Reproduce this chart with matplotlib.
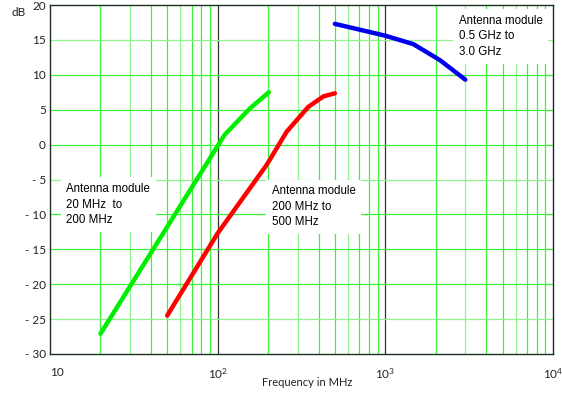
import numpy as np
import matplotlib
matplotlib.use("Agg")
import matplotlib.pyplot as plt
from matplotlib.ticker import FixedLocator, NullFormatter

# Curves (frequency in MHz, gain in dB)
f_green = [20, 110, 156, 202]
db_green = [-27.1, 1.4, 5.2, 7.5]

f_red = [50, 100, 196, 258, 347, 427, 500]
db_red = [-24.5, -12.7, -2.9, 1.85, 5.4, 6.9, 7.35]

f_blue = [500, 1000, 1467, 2117, 3000]
db_blue = [17.3, 15.6, 14.4, 12.1, 9.3]

y_ticks = [20, 15, 10, 5, 0, -5, -10, -15, -20, -25, -30]
y_labels = ["20", "15", "10", "5", "0", "- 5", "- 10", "- 15", "- 20", "- 25", "- 30"]
x_ticks = [10, 100, 1000, 10000]
x_labels = ["10", r"$\mathregular{10^2}$", r"$\mathregular{10^3}$", r"$\mathregular{10^4}$"]

plt.rcParams["font.family"] = ["Lato", "DejaVu Sans"]
plt.rcParams["mathtext.fontset"] = "custom"
plt.rcParams["mathtext.rm"] = "Lato"

fig = plt.figure(figsize=(5.62, 3.97), dpi=100)
ax = fig.add_axes([50 / 562, 1 - 354 / 397, 503 / 562, 349 / 397])
ax.set_xscale("log")
ax.set_xlim(10, 10000)
ax.set_ylim(-30, 20)

# grid: green minor verticals, dark decade lines, green horizontals
grid_green = "#3cf03c"
light_green = "#8ef58e"
for dec in [10, 100, 1000]:
    for m in range(2, 10):
        ax.axvline(dec * m, color=light_green if m in (3, 6) else grid_green,
                   lw=0.9, zorder=1)
for dec in [100, 1000]:
    ax.axvline(dec, color="#333333", lw=0.9, zorder=1)
for y in y_ticks[1:-1]:
    ax.axhline(y, color=light_green if y in (15, -5, -25) else grid_green,
               lw=0.9, zorder=1)

for f, db, c in [(f_green, db_green, "#00ee00"),
                 (f_red, db_red, "#ff0000"),
                 (f_blue, db_blue, "#0000ee")]:
    ax.plot(f, db, color=c, lw=3.2, solid_capstyle="round",
            solid_joinstyle="round", zorder=3)

ax.xaxis.set_major_locator(FixedLocator(x_ticks))
ax.xaxis.set_minor_locator(FixedLocator([]))
ax.xaxis.set_minor_formatter(NullFormatter())
ax.set_xticklabels(x_labels)
ax.set_yticks(y_ticks)
ax.set_yticklabels(y_labels)
ax.tick_params(length=0, labelsize=8.5, colors="#222222")
ax.tick_params(axis="x", pad=9)
ax.tick_params(axis="y", pad=3)
xt = ax.get_xticklabels()
xt[0].set_horizontalalignment("left")
for s in ax.spines.values():
    s.set_color("#1e2e1e")
    s.set_linewidth(1.0)
ax.set_xlabel("Frequency in MHz", fontsize=8, color="#222222")
ax.xaxis.set_label_coords((307 - 50) / 503, -(383 - 354) / 349)
ax.xaxis.label.set_va("center")
fig.text(12 / 562, 1 - 12 / 397, "dB", fontsize=8.5, color="#222222", va="center")

box = dict(facecolor="white", edgecolor="none", pad=4)
tkw = dict(fontsize=8.3, family=["Liberation Sans"], va="top", ha="left",
           linespacing=1.4, bbox=box, zorder=2)
ax.text(12.5, -5.5, "Antenna module\n20 MHz  to\n200 MHz", **tkw)
ax.text(210, -5.8, "Antenna module\n200 MHz to\n500 MHz", **tkw)
ax.text(2750, 18.6, "Antenna module\n0.5 GHz to\n3.0 GHz", **tkw)

fig.savefig("out.png", dpi=100)
